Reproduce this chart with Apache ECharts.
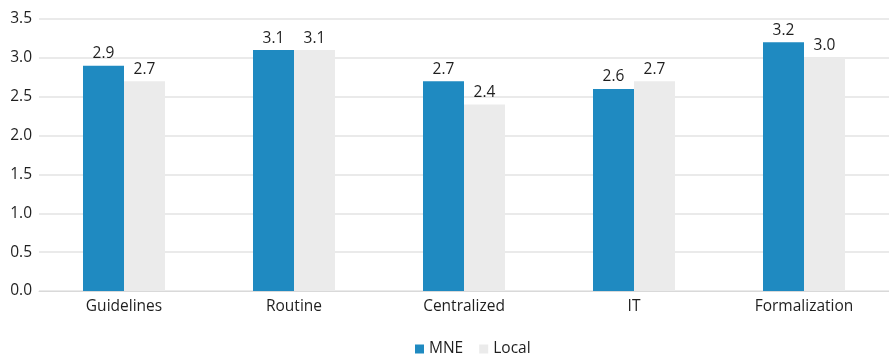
<!DOCTYPE html>
<html>
<head>
<meta charset="utf-8">
<script src="https://cdn.jsdelivr.net/npm/echarts@6/dist/echarts.min.js"></script>
<style>
  html, body { margin: 0; padding: 0; background: #fff; }
  #chart { width: 889px; height: 357px; }
</style>
</head>
<body>
<div id="chart"></div>
<script>
// Mean scores per dimension, multinational vs. local firms
const categories = ['Guidelines', 'Routine', 'Centralized', 'IT', 'Formalization'];
const mneValues = [2.9, 3.1, 2.7, 2.6, 3.2];
const localValues = [2.7, 3.1, 2.4, 2.7, 3.0];
const yTicks = { min: 0, max: 3.5, interval: 0.5 };

const FONT = '"Open Sans", "Noto Sans", sans-serif';
const FS = 15.5;
const TXT = '#1f1f1f';
const chart = echarts.init(document.getElementById('chart'));

const labelStyle = {
  show: true,
  position: 'top',
  distance: 4,
  fontFamily: FONT,
  fontSize: FS,
  color: TXT,
  formatter: p => p.value.toFixed(1)
};

chart.setOption({
  animation: false,
  textStyle: { fontFamily: FONT },
  grid: { left: 39, right: 0, top: 19, bottom: 66 },
  legend: {
    top: 336,
    left: 410,
    itemWidth: 9,
    itemHeight: 9,
    itemGap: 16,
    icon: 'rect',
    textStyle: { fontFamily: FONT, fontSize: FS, color: TXT },
    data: ['MNE', 'Local']
  },
  xAxis: {
    type: 'category',
    data: categories,
    axisTick: { show: false },
    axisLine: { lineStyle: { color: '#d9d9d9', width: 1 } },
    axisLabel: { fontFamily: FONT, fontSize: FS, color: TXT, margin: 8 }
  },
  yAxis: {
    type: 'value',
    min: yTicks.min,
    max: yTicks.max,
    interval: yTicks.interval,
    axisLine: { show: false },
    axisTick: { show: false },
    splitLine: { lineStyle: { color: '#e3e3e3', width: 1.5 } },
    axisLabel: {
      fontFamily: FONT, fontSize: FS, color: TXT, margin: 7,
      formatter: v => v.toFixed(1)
    }
  },
  series: [
    {
      name: 'MNE',
      type: 'bar',
      data: mneValues,
      barWidth: 41,
      barGap: '0%',
      itemStyle: { color: '#1f8ac1' },
      label: labelStyle
    },
    {
      name: 'Local',
      type: 'bar',
      data: localValues,
      barWidth: 41,
      itemStyle: { color: '#ebebeb' },
      label: labelStyle
    }
  ]
});
</script>
</body>
</html>
